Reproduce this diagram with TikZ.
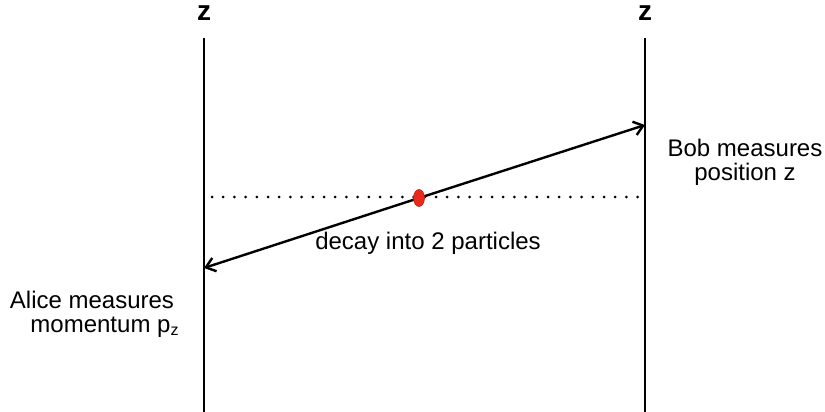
\documentclass[tikz,border=0pt]{standalone}
\usepackage{fontspec}
\setmainfont{Liberation Sans}
\usetikzlibrary{positioning, arrows.meta, shapes.geometric}
\definecolor{decayRed}{HTML}{E8291C}

\begin{document}
\begin{tikzpicture}[x=0.5pt, y=-0.5pt,
    wline/.style={line width=1.2pt, black},
    arr/.style={-{Straight Barb[length=4.5pt, width=7pt]}, line width=1.2pt},
    dot/.style={ellipse, fill=decayRed, draw=decayRed!80!black, line width=0.3pt,
      minimum width=5.5pt, minimum height=8.5pt, inner sep=0pt},
    lbl/.style={font=\fontsize{12}{12}\selectfont, align=center},
    axlbl/.style={font=\fontsize{14}{14}\selectfont\bfseries}]
    \useasboundingbox (0,0) rectangle (825,412);
    % the two world lines
    \coordinate (aliceTop) at (204,38); \coordinate (aliceBot) at (204,412);
    \coordinate (bobTop) at (645,38); \coordinate (bobBot) at (645,412);
    \draw[wline](aliceTop)--(aliceBot);\draw[wline](bobTop)--(bobBot);
    \node[axlbl] (zAlice) at (204,13) {z};
    \node[axlbl] (zBob) at (645,13) {z};
    % simultaneity line and decay point
    \coordinate (simL) at (212,197); \coordinate (simR) at (640,197);
    \draw[line width=1.5pt, line cap=round, dash pattern=on 0pt off 5.6pt](simL)--(simR);
    \coordinate (decayPt) at (419,198);
    \coordinate (aliceHit) at (204,268); \coordinate (bobHit) at (645,125);
    \draw[arr](decayPt)--(bobHit);\draw[arr](decayPt)--(aliceHit);
    \node[dot] (decay) at (decayPt) {};
    \node[lbl] (decayLbl) at (428,243) {decay into 2 particles};
    \node[lbl] (bobLbl) at (745,162) {Bob measures\\position z};
    \node[lbl] (aliceLbl) at (105,314) {Alice measures\hspace*{13pt}\\momentum p\textsubscript{z}};
  \end{tikzpicture}
\end{document}
